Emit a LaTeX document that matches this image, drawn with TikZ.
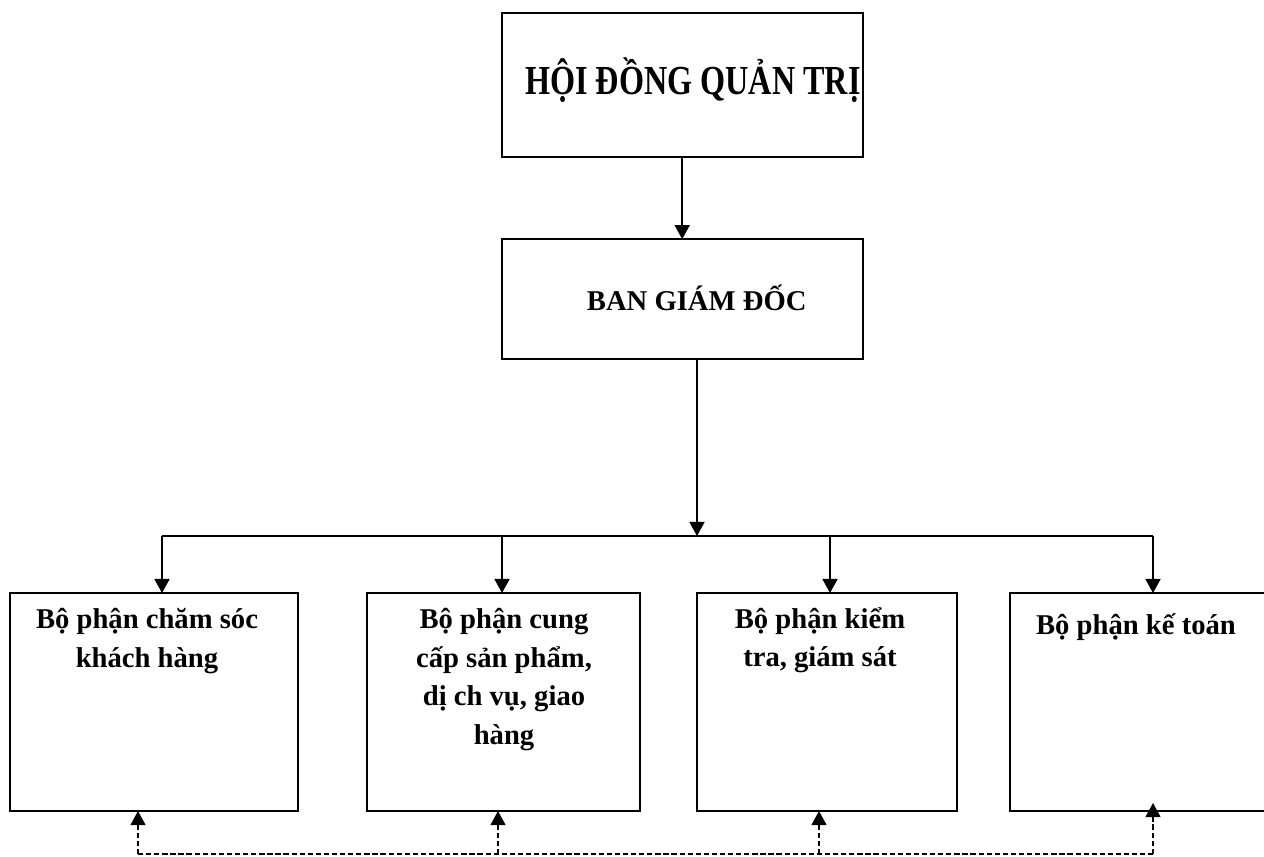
\documentclass[tikz,border=0pt]{standalone}
\usepackage{fontspec}
\setmainfont{Liberation Serif}
\usepackage{graphicx}
\usetikzlibrary{arrows.meta, positioning}
\tikzset{
>={Triangle[width=8.5pt, length=8pt]}, % filled triangle heads
node distance=1.65cm, % gap between the two top boxes
box/.style={draw=black, line width=1.1pt, inner sep=0pt, outer sep=0pt, minimum width=7.22cm}, % frame of every box
unit/.style={box, minimum height=4.36cm}, % the four boxes of the bottom row
toptext/.style={font=\bfseries\fontsize{23.5pt}{28pt}\selectfont, inner sep=0pt}, % text of the top box
boxtext/.style={font=\bfseries\fontsize{16.3pt}{22pt}\selectfont, inner sep=0pt, align=center}, % text of the other boxes
link/.style={->, line width=1.1pt}, % solid arrows
feedback/.style={line width=0.75pt, dash pattern=on 3pt off 1.6pt}, % dashed return lines
}

\begin{document}
\begin{tikzpicture}[x=0.02cm, y=-0.02cm]
      \useasboundingbox (0,0) rectangle (1264,856);

      \node[box, minimum height=2.88cm] (hdqt) at (682.2,84.7) {};
      \node[box, minimum height=2.4cm, below=of hdqt] (bgd) {};
      \node[unit, minimum width=5.76cm] (cs) at (154,702) {};
      \node[unit, minimum width=5.46cm, right=1.38cm of cs] (cc) {};
      \node[unit, minimum width=5.2cm, right=1.14cm of cc] (kt) {};
      \node[unit, minimum width=5.4cm, right=1.06cm of kt] (ke) {};

      \node[toptext, anchor=base] (hdqt text) at (693,94) {\scalebox{0.78}[1]{HỘI ĐỒNG QUẢN TRỊ}};
      \node[boxtext, anchor=base] (bgd text) at (696.7,310) {BAN GIÁM ĐỐC};
      \node[boxtext, anchor=north] (cs text) at (147,608) {Bộ phận chăm sóc\\khách hàng};
      \node[boxtext, anchor=north] (cc text) at (504,608) {Bộ phận cung\\cấp sản phẩm,\\dị ch vụ, giao\\hàng};
      \node[boxtext, anchor=north] (kt text) at (820,607) {Bộ phận kiểm\\tra, giám sát};
      \node[boxtext, anchor=north] (ke text) at (1136,613) {Bộ phận kế toán};

      \coordinate (bus) at (697,536);
      \coordinate (b1) at (162,536);
      \coordinate (b2) at (502,536);
      \coordinate (b3) at (830,536);
      \coordinate (b4) at (1153,536);
      \coordinate (f1) at (138,854);
      \coordinate (f2) at (498,854);
      \coordinate (f3) at (819,854);
      \coordinate (f4) at (1153,854);

      \draw[link] (hdqt) -- (bgd);
      \draw[link] (bgd.south -| bus) -- (bus);
      \draw[line width=1pt] (b1) -- (b4);
      \foreach \n/\c in {cs/b1, cc/b2, kt/b3, ke/b4}
        \draw[link] (\c) -- (\n.north -| \c);

      \draw[feedback] (f1) -- (f4);
      \foreach \n/\c in {cs/f1, cc/f2, kt/f3}
        \draw[feedback, ->] (\c) -- (\n.south -| \c);
      \draw[feedback, ->, shorten >=-0.16cm] (f4) -- (ke.south -| f4);
    \end{tikzpicture}
\end{document}
